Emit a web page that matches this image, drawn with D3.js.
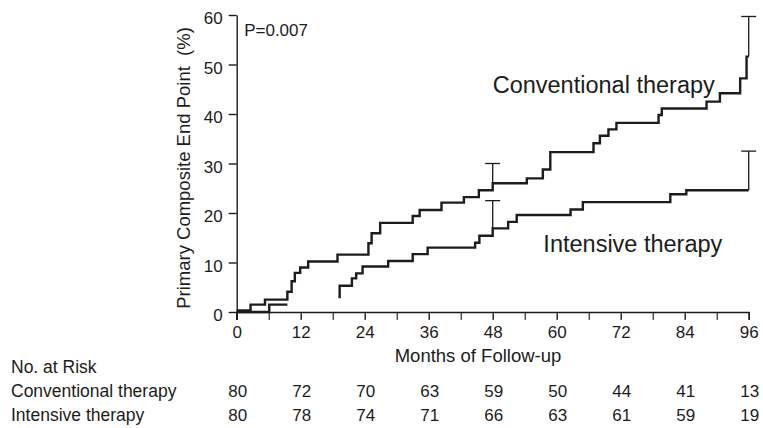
<!DOCTYPE html>
<html>
<head>
<meta charset="utf-8">
<script src="https://cdn.jsdelivr.net/npm/d3@7"></script>
<style>
  body { margin: 0; background: #fff; }
  text { font-family: "Liberation Sans", Arial, sans-serif; fill: #1c1c1c; }
</style>
</head>
<body>
<div id="chart"></div>
<script>
/*
 * Data
 *****************************/
// step points: month of event, cumulative % after it
const convMonths = [0, 2.6, 5.3, 9.5, 10.3, 10.9, 11.9, 13.4, 18.9, 24.7, 25.3, 26.9, 33.0, 34.3, 38.4, 42.6, 45.4, 48.0, 54.4, 57.4, 58.8, 66.9, 68.1, 69.7, 71.2, 79.1, 79.7, 88.1, 90.6, 94.4, 95.6, 96];
const convPct    = [0.3, 1.5, 2.5, 4.1, 6.2, 7.9, 9.0, 10.2, 11.6, 13.9, 15.9, 18.0, 19.4, 20.6, 22.1, 23.2, 24.6, 26.0, 27.0, 28.8, 32.3, 34.1, 35.6, 36.9, 38.2, 39.8, 41.1, 42.5, 44.2, 47.2, 51.6, 51.6];

// intensive curve is only visible in two pieces in the scan
const intMonthsA = [0, 6.1, 9.5];
const intPctA    = [0, 1.5, 1.5];
const intMonthsB = [19.3, 19.3, 21.6, 22.4, 23.6, 28.4, 33.0, 35.8, 44.7, 45.5, 48.0, 50.9, 52.5, 62.6, 64.9, 81.3, 84.3, 96];
const intPctB    = [2.8, 5.3, 6.8, 7.8, 9.2, 10.3, 11.7, 13.0, 14.0, 15.4, 16.9, 18.2, 19.6, 20.7, 22.2, 23.8, 24.6, 24.6];

// confidence bars: month, low, high
const barMonths = [48, 48, 96, 96];
const barLow    = [26.0, 16.9, 51.6, 24.6];
const barHigh   = [30.0, 22.5, 59.7, 32.5];

const xTicks = [0, 12, 24, 36, 48, 60, 72, 84, 96];
const xMinorTicks = [6, 18, 30, 42, 54, 66, 78, 90];
const yTicks = [0, 10, 20, 30, 40, 50, 60];

const riskRows = ["Conventional therapy", "Intensive therapy"];
const riskConv = [80, 72, 70, 63, 59, 50, 44, 41, 13];
const riskInt  = [80, 78, 74, 71, 66, 63, 61, 59, 19];

/*
 * Chart
 *****************************/
const W = 763, H = 428;
const margin = {left: 236.7, right: 14.3, top: 15, bottom: 116};
const ink = "#1c1c1c";

const svg = d3.select("#chart").append("svg")
  .attr("width", W).attr("height", H);

const x = d3.scaleLinear().domain([0, 96]).range([margin.left, W - margin.right]);
const y = d3.scaleLinear().domain([0, 60]).range([H - margin.bottom, margin.top]);

// axes
const xAxis = svg.append("g")
  .attr("transform", `translate(0,${y(0)})`)
  .call(d3.axisBottom(x).tickValues(xTicks).tickSize(8).tickPadding(6).tickSizeOuter(8));
svg.append("g")
  .attr("transform", `translate(0,${y(0)})`)
  .call(d3.axisBottom(x).tickValues(xMinorTicks).tickSize(8).tickFormat(""))
  .select(".domain").remove();
const yAxis = svg.append("g")
  .attr("transform", `translate(${x(0)},0)`)
  .call(d3.axisLeft(y).tickValues(yTicks).tickSize(8).tickPadding(6).tickSizeOuter(0));

[xAxis, yAxis].forEach(g => {
  g.selectAll("path, line").attr("stroke", ink).attr("stroke-width", 1.4);
  g.selectAll("text").style("font-size", "17px").attr("fill", ink);
});
yAxis.selectAll("text").attr("dy", "0.5em");
// y axis runs a bit below zero like the x tick at 0
svg.append("line")
  .attr("x1", x(0)).attr("x2", x(0))
  .attr("y1", y(0)).attr("y2", y(0) + 8)
  .attr("stroke", ink).attr("stroke-width", 1.4);

// curves
const line = d3.line()
  .x(d => x(d[0]))
  .y(d => y(d[1]))
  .curve(d3.curveStepAfter);

const curves = [
  d3.zip(convMonths, convPct),
  d3.zip(intMonthsA, intPctA),
  d3.zip(intMonthsB, intPctB)
];

svg.append("g").selectAll("path")
  .data(curves)
  .enter()
  .append("path")
  .attr("d", d => line(d))
  .attr("fill", "none")
  .attr("stroke", ink)
  .attr("stroke-width", 2.4);

// error bars
const bars = d3.zip(barMonths, barLow, barHigh);
const barG = svg.append("g").attr("stroke", ink).attr("stroke-width", 1.3);
barG.selectAll("line.v")
  .data(bars)
  .enter()
  .append("line")
  .attr("class", "v")
  .attr("x1", d => x(d[0])).attr("x2", d => x(d[0]))
  .attr("y1", d => y(d[1])).attr("y2", d => y(d[2]));
barG.selectAll("line.cap")
  .data(bars)
  .enter()
  .append("line")
  .attr("class", "cap")
  .attr("x1", d => x(d[0]) - 7.5).attr("x2", d => x(d[0]) + 7.5)
  .attr("y1", d => y(d[2])).attr("y2", d => y(d[2]));

// labels inside the plot
svg.append("text")
  .attr("x", x(1.4)).attr("y", 36)
  .style("font-size", "17px")
  .text("P=0.007");
svg.append("text")
  .attr("x", x(48)).attr("y", 93)
  .style("font-size", "23.5px")
  .text("Conventional therapy");
svg.append("text")
  .attr("x", x(57.5)).attr("y", 252)
  .style("font-size", "23.5px")
  .text("Intensive therapy");

// axis titles
svg.append("text")
  .attr("x", 478).attr("y", 362)
  .attr("text-anchor", "middle")
  .style("font-size", "18.5px")
  .text("Months of Follow-up");
svg.append("text")
  .attr("transform", "translate(190,168) rotate(-90)")
  .attr("text-anchor", "middle")
  .style("font-size", "18.5px")
  .attr("xml:space", "preserve")
  .text("Primary Composite End Point  (%)");

// number at risk table
svg.append("text")
  .attr("x", 11).attr("y", 373)
  .style("font-size", "17.5px")
  .text("No. at Risk");

const rowY = [397, 421];
const riskData = [riskConv, riskInt];
riskRows.forEach((name, i) => {
  svg.append("text")
    .attr("x", 11).attr("y", rowY[i])
    .style("font-size", "17.5px")
    .text(name);
  svg.append("g").selectAll("text")
    .data(riskData[i])
    .enter()
    .append("text")
    .attr("x", (d, j) => x(xTicks[j]) + 1)
    .attr("y", rowY[i])
    .attr("text-anchor", "middle")
    .style("font-size", "17px")
    .text(d => d);
});
</script>
</body>
</html>
